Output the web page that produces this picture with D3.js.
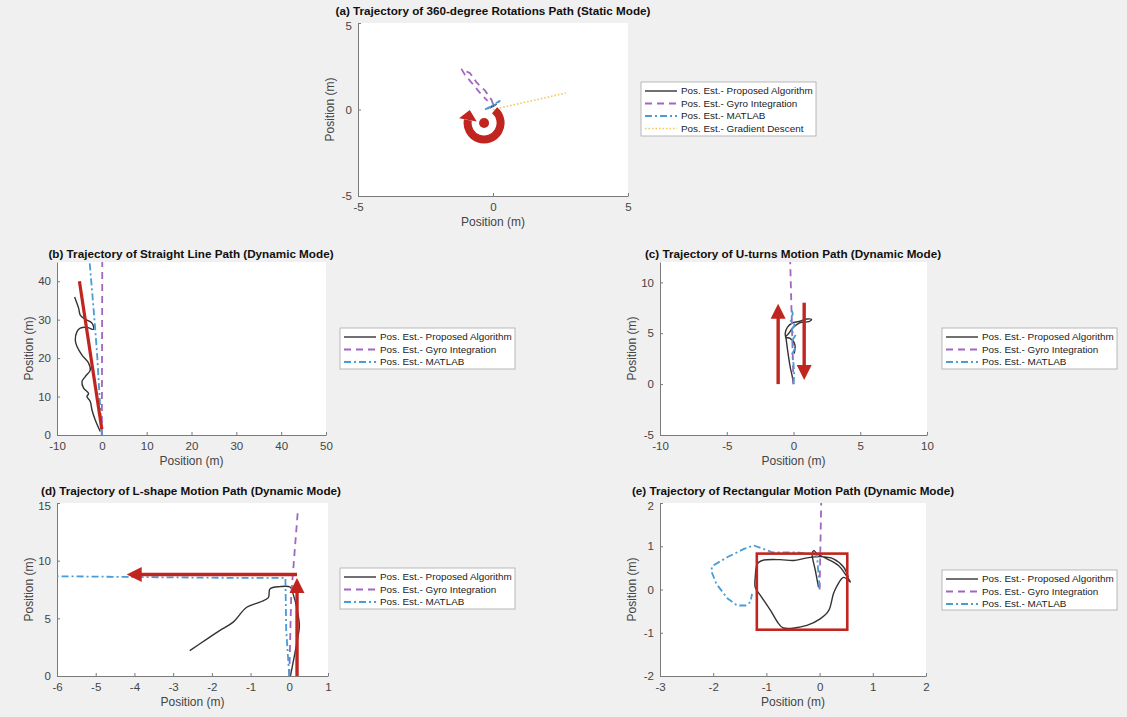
<!DOCTYPE html>
<html>
<head>
<meta charset="utf-8">
<script src="https://cdn.jsdelivr.net/npm/d3@7"></script>
<style>
  body { margin:0; background:#f0f0f0; }
  svg { display:block; font-family:"Liberation Sans", Arial, Helvetica, sans-serif; }
  .tick text { fill:#444; font-size:11.5px; }
  .domain, .tick line { stroke:#7a7a7a; }
</style>
</head>
<body>
<div id="canvas"></div>
<script>
// titles, legend names, axes
var titles = [
  '(a) Trajectory of 360-degree Rotations Path (Static Mode)',
  '(b) Trajectory of Straight Line Path (Dynamic Mode)',
  '(c) Trajectory of U-turns Motion Path (Dynamic Mode)',
  '(d) Trajectory of L-shape Motion Path (Dynamic Mode)',
  '(e) Trajectory of Rectangular Motion Path (Dynamic Mode)'
];
var legendNames = ['Pos. Est.- Proposed Algorithm', 'Pos. Est.- Gyro Integration',
                   'Pos. Est.- MATLAB', 'Pos. Est.- Gradient Descent'];
var axisLabel = 'Position (m)';

var xDomains = [[-5,5], [-10,50], [-10,10], [-6,1], [-3,2]];
var yDomains = [[-5,5], [0,45], [-5,12], [0,15], [-2,2]];
var xTicks = [[-5,0,5], [-10,0,10,20,30,40,50], [-10,-5,0,5,10], [-6,-5,-4,-3,-2,-1,0,1], [-3,-2,-1,0,1,2]];
var yTicks = [[-5,0,5], [0,10,20,30,40], [-5,0,5,10], [0,5,10,15], [-2,-1,0,1,2]];

// (a) static rotations
var aProposed = [[-0.12,0.08],[0.02,0.25],[0.12,0.3],[0.0,0.18],[-0.1,0.12]];
var aGyro = [[0,0.3],[-0.05,0.55],[-0.3,1.1],[-0.6,1.55],[-0.85,2.1],[-1.16,2.32],
             [-1.04,2.0],[-0.67,1.32],[-0.42,0.84],[-0.2,0.5]];
var aMatlab = [[-0.3,0.0],[-0.15,0.12],[0.0,0.2],[0.15,0.35],[0.25,0.5],[0.05,0.3],[-0.2,0.05]];
var aGradient = [[0,0],[2.7,0.95]];

// (b) straight line
var bProposed = [[-0.35,0.9],[-1.47,3.9],[-2.2,6.5],[-2.58,8.7],[-3.32,10.0],[-2.95,10.8],
  [-4.07,12.2],[-4.43,13.9],[-3.69,15.2],[-2.58,16.9],[-2.95,18.7],[-4.43,20.8],[-5.54,23.0],
  [-5.92,24.7],[-5.54,26.9],[-4.81,27.8],[-3.32,28.0],[-1.84,27.5],[-2.2,29.1],[-3.69,30.1],
  [-4.81,31.2],[-5.18,33.0],[-5.7,34.7],[-6.07,35.9]];
var bGyro = [[0,0],[0.1,46]];
var bMatlab = [[0,0],[-0.5,10],[-1.0,20],[-1.5,28],[-2.0,35],[-2.8,46]];

// (c) U-turns
var cProposed = [[0,0],[-0.1,0.8],[-0.25,1.7],[-0.45,3.4],[-0.55,4.4],[-0.62,5.0],[-0.45,5.6],
  [-0.1,6.0],[0.4,6.15],[1.0,6.4],[1.35,6.35],[1.15,6.15],[0.5,6.05],[0.0,5.6],[-0.35,5.0],
  [-0.6,4.6],[-0.25,4.5],[0.1,3.9],[0.05,3.0]];
var cGyro = [[0,0],[-0.25,12.2]];
var cMatlab = [[0,0],[0.05,1],[0.0,2],[-0.1,3],[0.12,3.5],[-0.15,4.2],[0.15,4.8],[-0.2,5.3],
  [0.1,5.8],[-0.25,6.3],[-0.05,6.9],[-0.2,7.5]];

// (d) L-shape
var dProposed = [[0.03,0],[0.19,2.8],[0.26,4.38],[0.19,5.96],[0.1,7.1],[0.03,7.7],[-0.24,7.75],
  [-0.5,7.55],[-0.54,6.8],[-0.76,6.4],[-1.1,5.96],[-1.45,4.67],[-1.79,3.95],[-2.13,3.2],[-2.57,2.2]];
var dGyro = [[0,0],[0.05,7],[0.22,14.3]];
var dMatlab = [[0,0],[-0.08,4],[-0.1,8.5],[-1,8.5],[-3,8.55],[-6,8.65]];

// (e) rectangle
var eProposed = [[-0.02,0.05],[-0.08,0.44],[-0.14,0.83],[-0.11,0.9],[-0.05,0.83],[0.14,0.71],
  [0.36,0.55],[0.48,0.36],[0.58,0.17],[0.45,0.28],[0.33,0.09],[0.26,-0.1],[0.17,-0.49],
  [0.01,-0.68],[-0.24,-0.83],[-0.68,-0.89],[-0.77,-0.79],[-0.92,-0.49],[-1.11,-0.14],
  [-1.21,0.05],[-1.21,0.28],[-1.17,0.59],[-1.08,0.67],[-0.74,0.69],[-0.49,0.67],[-0.24,0.73],
  [0.01,0.76],[0.26,0.71],[0.45,0.52],[0.54,0.28]];
var eGyro = [[0,0],[0.03,2]];
var eMatlab = [[0,0.05],[-0.05,0.8],[-0.42,0.86],[-0.89,0.86],[-1.24,1.02],[-1.42,0.94],
  [-1.73,0.75],[-2.01,0.55],[-2.04,0.44],[-1.94,0.13],[-1.73,-0.21],[-1.55,-0.37],
  [-1.39,-0.37],[-1.3,-0.29],[-1.27,-0.1]];

var series = [
  [aProposed, aGyro, aMatlab, aGradient],
  [bProposed, bGyro, bMatlab],
  [cProposed, cGyro, cMatlab],
  [dProposed, dGyro, dMatlab],
  [eProposed, eGyro, eMatlab]
];

// red annotations drawn on the figure
var aRingCenter = [-0.33, -0.78];
var bRedLine = [[0,1.5],[-5,40]];
var cArrows = [[[-1.15,0],[-1.15,7.9]], [[0.8,8.0],[0.8,0.4]]];
var dArrows = [[[0.2,0],[0.2,8.5]], [[0.2,8.8],[-4.2,8.8]]];
var eRect = [[-1.18,-0.93],[0.52,0.83]];

// layout
var layout = [
  {l:358, r:628, t:23,  b:196, tx:493, ty:15,  leg:{x:641, y:82,  w:175, h:54}},
  {l:57,  r:326, t:262, b:435, tx:191, ty:258, leg:{x:340, y:328, w:175, h:41}},
  {l:660, r:927, t:262, b:435, tx:793, ty:258, leg:{x:942, y:328, w:175, h:41}},
  {l:57,  r:328, t:503, b:676, tx:191, ty:495, leg:{x:340, y:568, w:175, h:41}},
  {l:660, r:926, t:503, b:676, tx:793, ty:495, leg:{x:942, y:570, w:175, h:40}}
];
var styles = [
  {color:'#333333', width:1.4, dash:null},
  {color:'#a066c0', width:1.8, dash:'7,5'},
  {color:'#4a9bd6', width:1.8, dash:'7,3,2,3'},
  {color:'#f0c65e', width:1.6, dash:'1.5,2'}
];
var red = '#c0261f';

var svg = d3.select('#canvas').append('svg')
  .attr('width', 1127).attr('height', 717);
svg.append('rect').attr('width',1127).attr('height',717).attr('fill','#f0f0f0');

var defs = svg.append('defs');
var fmt = function(d){ return String(d); };

var panels = layout.map(function(L, i){
  var x = d3.scaleLinear().domain(xDomains[i]).range([L.l, L.r]);
  var y = d3.scaleLinear().domain(yDomains[i]).range([L.b, L.t]);
  var g = svg.append('g').attr('class','panel');

  g.append('rect').attr('x',L.l).attr('y',L.t).attr('width',L.r-L.l).attr('height',L.b-L.t)
    .attr('fill','#fff');

  defs.append('clipPath').attr('id','clip'+i).append('rect')
    .attr('x',L.l).attr('y',L.t).attr('width',L.r-L.l).attr('height',L.b-L.t);

  g.append('g').attr('transform','translate(0,'+L.b+')')
    .call(d3.axisBottom(x).tickValues(xTicks[i]).tickFormat(fmt)
      .tickSizeInner(-3).tickSizeOuter(0).tickPadding(7));
  var ya = g.append('g').attr('transform','translate('+L.l+',0)')
    .call(d3.axisLeft(y).tickValues(yTicks[i]).tickFormat(fmt)
      .tickSizeInner(-3).tickSizeOuter(0).tickPadding(6));
  g.selectAll('.tick text').attr('font-family', null).attr('font-size', null);
  // top y tick label sits just under the title, nudge it down a little
  ya.selectAll('.tick text').filter(function(d){ return d === yDomains[i][1]; })
    .attr('dy','0.6em');

  g.append('text').attr('x',(L.l+L.r)/2).attr('y',L.b+30).attr('text-anchor','middle')
    .attr('font-size',12).attr('fill','#444').text(axisLabel);
  g.append('text').attr('transform','translate('+(L.l-28)+','+((L.t+L.b)/2)+') rotate(-90)')
    .attr('text-anchor','middle').attr('dominant-baseline','central')
    .attr('font-size',12).attr('fill','#444').text(axisLabel);
  g.append('text').attr('x',L.tx).attr('y',L.ty).attr('text-anchor','middle')
    .attr('font-size',11.7).attr('font-weight','bold').attr('fill','#111').text(titles[i]);

  var line = d3.line().x(function(d){return x(d[0]);}).y(function(d){return y(d[1]);});
  var plot = g.append('g').attr('clip-path','url(#clip'+i+')');

  series[i].forEach(function(s, k){
    var st = styles[k];
    var smooth = (k === 0) ? d3.curveCatmullRom : d3.curveLinear;
    plot.append('path').datum(s)
      .attr('d', line.curve(smooth))
      .attr('fill','none').attr('stroke',st.color).attr('stroke-width',st.width)
      .attr('stroke-dasharray',st.dash).attr('stroke-linejoin','round');
  });

  // legend
  var lg = g.append('g').attr('transform','translate('+L.leg.x+','+L.leg.y+')');
  lg.append('rect').attr('width',L.leg.w).attr('height',L.leg.h)
    .attr('fill','#fff').attr('stroke','#a8a8a8').attr('stroke-width',0.8);
  series[i].forEach(function(s, k){
    var st = styles[k], yy = 9 + k*12.5;
    lg.append('line').attr('x1',4).attr('x2',36).attr('y1',yy).attr('y2',yy)
      .attr('stroke',st.color).attr('stroke-width',st.width)
      .attr('stroke-dasharray',st.dash);
    lg.append('text').attr('x',40).attr('y',yy).attr('dy','0.35em')
      .attr('font-size',9.9).attr('fill','#222').text(legendNames[k]);
  });

  return {g:plot, x:x, y:y};
});

function arrow(p, a, b){
  var x1 = p.x(a[0]), y1 = p.y(a[1]), x2 = p.x(b[0]), y2 = p.y(b[1]);
  var dx = x2-x1, dy = y2-y1, len = Math.sqrt(dx*dx+dy*dy), ux = dx/len, uy = dy/len;
  var hl = 15, hw = 7.5;
  var bx = x2-ux*hl, by = y2-uy*hl;
  p.g.append('line').attr('x1',x1).attr('y1',y1).attr('x2',bx+ux*2).attr('y2',by+uy*2)
    .attr('stroke',red).attr('stroke-width',3.4);
  p.g.append('path')
    .attr('d','M'+x2+','+y2+'L'+(bx-uy*hw)+','+(by+ux*hw)+'L'+(bx+uy*hw)+','+(by-ux*hw)+'Z')
    .attr('fill',red);
}

// (a) circular arrow round a dot
(function(){
  var p = panels[0], cx = p.x(aRingCenter[0]), cy = p.y(aRingCenter[1]), r = 16.5;
  var t0 = Math.PI*0.22, t1 = Math.PI*1.56;
  var arc = d3.arc().innerRadius(r-4).outerRadius(r+4).startAngle(t0).endAngle(t1);
  p.g.append('path').attr('transform','translate('+cx+','+cy+')').attr('d',arc()).attr('fill',red);
  // head at end of arc, pointing along the direction of increasing angle
  var hx = cx + r*Math.sin(t1), hy = cy - r*Math.cos(t1);
  var tanx = Math.cos(t1), tany = Math.sin(t1);
  var nx = Math.sin(t1), ny = -Math.cos(t1);
  var tipx = hx + tanx*10, tipy = hy + tany*10;
  p.g.append('path')
    .attr('d','M'+tipx+','+tipy+'L'+(hx+nx*9)+','+(hy+ny*9)+'L'+(hx-nx*9)+','+(hy-ny*9)+'Z')
    .attr('fill',red);
  p.g.append('circle').attr('cx',cx).attr('cy',cy).attr('r',5).attr('fill',red);
})();

// (b) red straight line
panels[1].g.append('line')
  .attr('x1',panels[1].x(bRedLine[0][0])).attr('y1',panels[1].y(bRedLine[0][1]))
  .attr('x2',panels[1].x(bRedLine[1][0])).attr('y2',panels[1].y(bRedLine[1][1]))
  .attr('stroke',red).attr('stroke-width',3.2);

cArrows.forEach(function(a){ arrow(panels[2], a[0], a[1]); });
dArrows.forEach(function(a){ arrow(panels[3], a[0], a[1]); });

// (e) red rectangle
panels[4].g.append('rect')
  .attr('x',panels[4].x(eRect[0][0])).attr('y',panels[4].y(eRect[1][1]))
  .attr('width',panels[4].x(eRect[1][0])-panels[4].x(eRect[0][0]))
  .attr('height',panels[4].y(eRect[0][1])-panels[4].y(eRect[1][1]))
  .attr('fill','none').attr('stroke',red).attr('stroke-width',2.6);
</script>
</body>
</html>
